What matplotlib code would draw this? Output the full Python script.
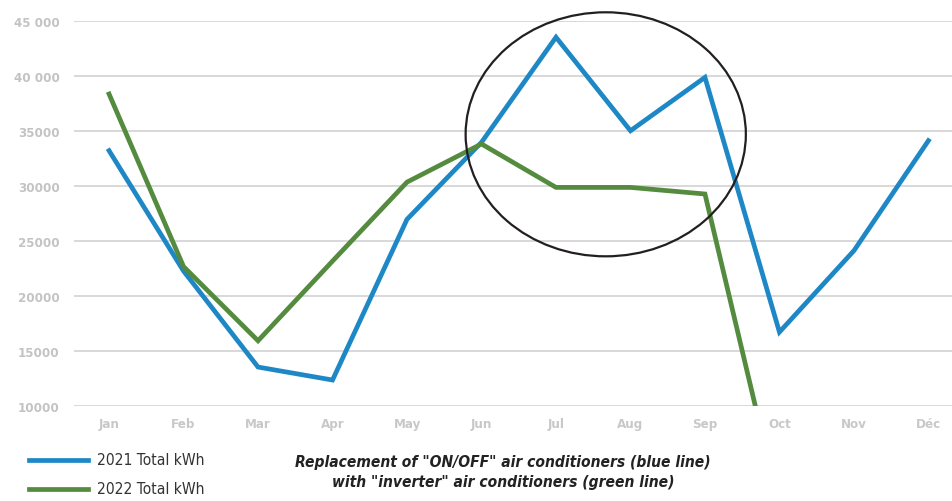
import matplotlib
matplotlib.use("Agg")
import matplotlib.pyplot as plt
from matplotlib.patches import Ellipse
from matplotlib.lines import Line2D

months = ["Jan", "Feb", "Mar", "Apr", "May", "Jun", "Jul", "Aug", "Sep", "Oct", "Nov", "Déc"]
kwh_2021 = [33240, 22300, 13570, 12390, 27000, 34000, 43550, 35050, 39900, 16750, 24150, 34150]
kwh_2022 = [38390, 22700, 15960, 23200, 30380, 33850, 29900, 29900, 29300, 800]
y_ticks = [10000, 15000, 20000, 25000, 30000, 35000, 40000, 45000]
y_tick_labels = ["10000", "15000", "20000", "25000", "30000", "35000", "40 000", "45 000"]
legend_labels = ["2021 Total kWh", "2022 Total kWh"]
caption = 'Replacement of "ON/OFF" air conditioners (blue line)\nwith "inverter" air conditioners (green line)'

BLUE = "#1E88C6"
GREEN = "#548B3F"
GRID = "#d5d5d5"
TICK = "#c3c3c3"

fig = plt.figure(figsize=(9.53, 5.02), dpi=100)
ax = fig.add_axes([0.0777, 0.1886, 0.9223, 0.767])

x = list(range(len(months)))
ax.plot(x, kwh_2021, color=BLUE, lw=3.4, solid_joinstyle="miter", zorder=3)
ax.plot(x[:len(kwh_2022)], kwh_2022, color=GREEN, lw=3.4, solid_joinstyle="miter", zorder=3)

ax.set_xlim(-0.47, 11.33)
ax.set_ylim(10000, 45000)
ax.set_yticks(y_ticks)
ax.set_yticklabels(y_tick_labels)
ax.set_xticks(x)
ax.set_xticklabels(months)
ax.yaxis.grid(True, color=GRID, lw=1.3)
ax.set_axisbelow(True)
for s in ax.spines.values():
    s.set_visible(False)
ax.tick_params(axis="both", length=0, colors=TICK)
ax.tick_params(axis="y", pad=10.5)
ax.tick_params(axis="x", pad=8)
for lab in ax.get_yticklabels():
    lab.set_fontsize(8.6)
    lab.set_fontweight("bold")
    lab.set_family("DejaVu Sans")
    lab.set_color(TICK)
for lab in ax.get_xticklabels():
    lab.set_fontsize(9.5)
    lab.set_fontweight("bold")
    lab.set_fontstretch("condensed")
    lab.set_color("#c8c8c8")

ell = Ellipse((6.668, 34727), 3.762, 22182, fill=False, ec="#231f20", lw=1.6, clip_on=False, zorder=4)
ax.add_patch(ell)

# legend
for i, (lab, col) in enumerate(zip(legend_labels, [BLUE, GREEN])):
    yy = 1 - (461 + 29 * i) / 502
    fig.add_artist(Line2D([29 / 953, 88 / 953], [yy, yy], color=col, lw=3.4, transform=fig.transFigure))
    fig.text(97 / 953, yy, lab, fontsize=11.2, color="#333333", va="center", ha="left",
             fontstretch="condensed")

fig.text(503 / 953, 1 - 472.5 / 502, caption, fontsize=11.2, fontweight="bold", fontstyle="italic",
         ha="center", va="center", color="#222222", fontstretch="condensed", linespacing=1.45)

fig.savefig("out.png", dpi=100)
